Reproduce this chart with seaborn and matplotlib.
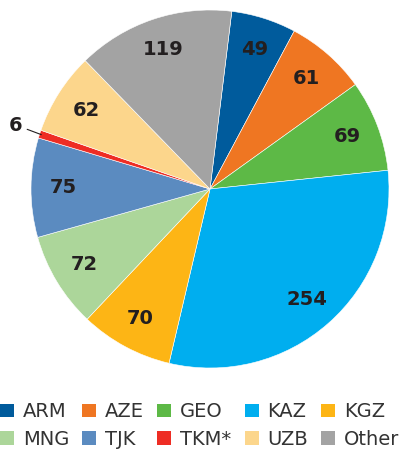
import numpy as np
import matplotlib
matplotlib.use("Agg")
import matplotlib.pyplot as plt
import seaborn as sns
from matplotlib.patches import Patch

sns.set_theme(style="white")
plt.rcParams['font.family'] = ['DejaVu Sans']

# données du graphique
pays = ['ARM', 'AZE', 'GEO', 'KAZ', 'KGZ', 'MNG', 'TJK', 'TKM*', 'UZB', 'Other']
valeurs = [49, 61, 69, 254, 70, 72, 75, 6, 62, 119]
couleurs = ['#005b9c', '#ef7622', '#5db946', '#00aeef', '#fdb515',
            '#acd69a', '#5b8bc0', '#ee2d24', '#fcd68c', '#a3a3a3']

fig = plt.figure(figsize=(4.09, 4.54), dpi=100)
W, H = 409, 454
cx, cy, r = 210, 189, 179
ax = fig.add_axes([(cx - r) / W, (H - cy - r) / H, 2 * r / W, 2 * r / H])

wedges, _ = ax.pie(valeurs, colors=couleurs, startangle=83, counterclock=False,
                   radius=1, wedgeprops=dict(edgecolor='white', linewidth=0.4))
ax.set_xlim(-1, 1)
ax.set_ylim(-1, 1)
ax.set_aspect('equal')
ax.axis('off')

# étiquettes des valeurs
for w, v in zip(wedges, valeurs):
    ang = np.deg2rad((w.theta1 + w.theta2) / 2)
    if v < 10:
        x0, y0 = np.cos(ang), np.sin(ang)
        ax.annotate(str(v), xy=(x0 * 0.99, y0 * 0.99), xytext=(x0 * 1.1, y0 * 1.1 + 0.02),
                    ha='right', va='center', fontsize=14, fontweight='bold', color='#231f20',
                    arrowprops=dict(arrowstyle='-', color='#231f20', lw=0.8, shrinkA=1, shrinkB=0))
    else:
        ax.text(0.82 * np.cos(ang), 0.82 * np.sin(ang), str(v), ha='center', va='center',
                fontsize=14, fontweight='bold', color='#231f20')

# légende sur deux lignes (ordre par colonne)
handles = [Patch(facecolor=c, edgecolor='none') for c in couleurs]
ordre = [0, 5, 1, 6, 2, 7, 3, 8, 4, 9]
fig.legend([handles[i] for i in ordre], [pays[i] for i in ordre], ncol=5,
           loc='lower left', bbox_to_anchor=(0.0, 5 / H), frameon=False,
           borderpad=0, borderaxespad=0, prop={'size': 14},
           handlelength=0.72, handleheight=0.72, handletextpad=0.45,
           columnspacing=0.68, labelspacing=0.45, labelcolor='#333333')

fig.savefig('out.png', dpi=100)
